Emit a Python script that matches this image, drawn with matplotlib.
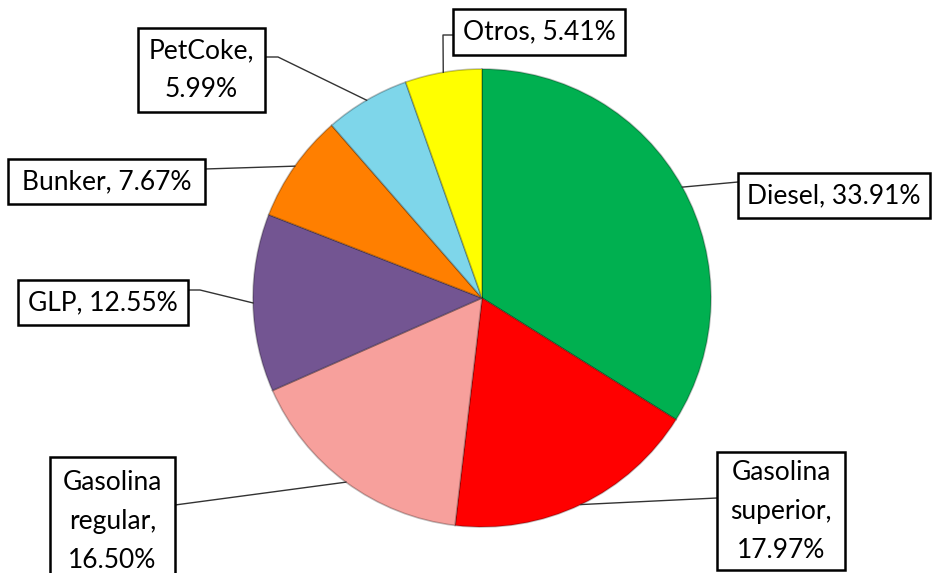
import numpy as np
import matplotlib
matplotlib.use('Agg')
import matplotlib.pyplot as plt
from matplotlib.patches import Rectangle

labels = ['Diesel', 'Gasolina superior', 'Gasolina regular', 'GLP',
          'Bunker', 'PetCoke', 'Otros']
shares = [33.91, 17.97, 16.50, 12.55, 7.67, 5.99, 5.41]
colors = ['#00B050', '#FF0000', '#F7A09C', '#735592',
          '#FF7F00', '#7ED6EA', '#FFFF00']
box_text = ['Diesel, 33.91%', 'Gasolina\nsuperior,\n17.97%',
            'Gasolina\nregular,\n16.50%', 'GLP, 12.55%',
            'Bunker, 7.67%', 'PetCoke,\n5.99%', 'Otros, 5.41%']

W, H = 933, 573
CX, CY, R = 482, H - 298, 229

# label boxes in pixel coords (x0, y0_top, x1, y1_bottom), leader end, elbow
boxes = [(738, 173, 930, 218), (717, 452, 845, 570), (50, 457, 175, 585),
         (18, 280, 188, 325), (8, 159, 205, 204), (138, 28, 265, 112),
         (453, 9, 625, 55)]
ends = [(738, 182), (717, 498), (175, 505), (188, 290), (205, 169),
        (265, 57), (453, 35)]
elbows = [None, None, None, (200, 290), None, (278, 57), (443, 35)]

fig = plt.figure(figsize=(W / 100, H / 100), dpi=100)
ax = fig.add_axes([0, 0, 1, 1])
ax.set_xlim(0, W); ax.set_ylim(0, H); ax.set_aspect('equal'); ax.axis('off')

wedges, _ = ax.pie(shares, colors=colors, startangle=90, counterclock=False,
                   center=(CX, CY), radius=R,
                   wedgeprops=dict(edgecolor=(0, 0, 0, 0.25), linewidth=1.2))
ax.set_xlim(0, W); ax.set_ylim(0, H)

for w, txt, (x0, y0, x1, y1), end, elb in zip(wedges, box_text, boxes, ends, elbows):
    mid = np.deg2rad((w.theta1 + w.theta2) / 2)
    ax_pt = (CX + R * np.cos(mid), CY + R * np.sin(mid))
    pts = [ax_pt]
    if elb is not None:
        pts.append((elb[0], H - elb[1]))
    pts.append((end[0], H - end[1]))
    xs, ys = zip(*pts)
    ax.plot(xs, ys, color='#333333', lw=1.0, zorder=3)
    ax.add_patch(Rectangle((x0, H - y1), x1 - x0, y1 - y0, facecolor='white',
                           edgecolor='black', lw=1.8, zorder=4, clip_on=False))
    ax.text((x0 + x1) / 2, H - (y0 + y1) / 2, txt, ha='center', va='center',
            fontsize=19, family='Lato', linespacing=1.7, zorder=5)

fig.savefig('out.png', dpi=100)
